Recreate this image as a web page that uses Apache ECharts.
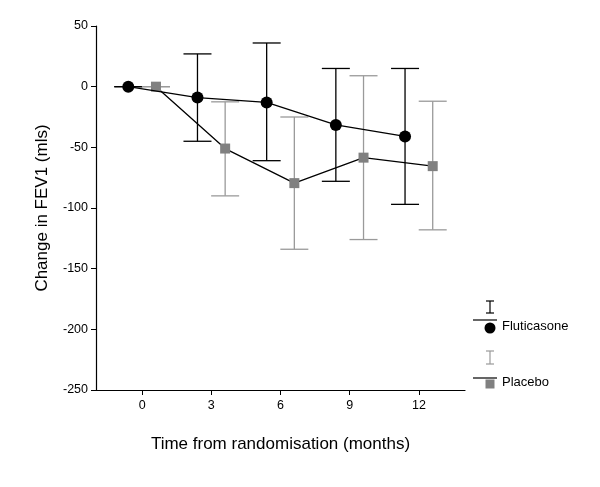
<!DOCTYPE html>
<html>
<head>
<meta charset="utf-8">
<script src="https://cdn.jsdelivr.net/npm/echarts@6/dist/echarts.min.js"></script>
<style>html,body{margin:0;padding:0;background:#fff;}#c{width:600px;height:487px;}</style>
</head>
<body>
<div id="c"></div>
<script>
const months = [0, 3, 6, 9, 12];
const xTicks = [0, 3, 6, 9, 12];
const flutMean = [0, -9, -13, -31.5, -41];
const flutLower = [0, -45, -61, -78, -97];
const flutUpper = [0, 27, 36, 15, 15];
const placMean = [0, -51, -79.5, -58.5, -65.5];
const placLower = [0, -90, -134, -126, -118];
const placUpper = [0, -12.5, -25, 9, -12];
const seriesNames = ['Fluticasone', 'Placebo'];

const DODGE = 0.6;
const FONT = 'Liberation Sans, Arial, Helvetica, sans-serif';
const BAR_GRAY = '#9a9a9a';
const SQ_GRAY = '#808080';

function errData(offset, lower, upper) {
  return months.map((m, i) => [m + offset, lower[i], upper[i]]);
}
function errSeries(name, data, color) {
  return {
    type: 'custom', name: name, z: 1,
    data: data,
    encode: { x: 0, y: [1, 2] },
    renderItem: function (params, api) {
      const x = api.value(0);
      const lo = api.coord([x, api.value(1)]);
      const hi = api.coord([x, api.value(2)]);
      const hw = 14;
      const st = { stroke: color, lineWidth: 1.3 };
      return {
        type: 'group',
        children: [
          { type: 'line', shape: { x1: lo[0], y1: lo[1], x2: hi[0], y2: hi[1] }, style: st },
          { type: 'line', shape: { x1: lo[0] - hw, y1: lo[1], x2: lo[0] + hw, y2: lo[1] }, style: st },
          { type: 'line', shape: { x1: hi[0] - hw, y1: hi[1], x2: hi[0] + hw, y2: hi[1] }, style: st }
        ]
      };
    }
  };
}

const chart = echarts.init(document.getElementById('c'));
chart.setOption({
  animation: false,
  backgroundColor: '#fff',
  textStyle: { fontFamily: FONT },
  grid: { left: 96, right: 135, top: 26, bottom: 97, containLabel: false },
  xAxis: {
    type: 'value', min: -2, max: 14,
    name: 'Time from randomisation (months)',
    nameLocation: 'middle', nameGap: 46,
    nameTextStyle: { fontSize: 17, color: '#000', fontFamily: FONT },
    axisLine: { show: true, onZero: false, lineStyle: { color: '#000', width: 1.2 } },
    axisTick: { show: true, length: 5, customValues: xTicks, lineStyle: { color: '#000' } },
    axisLabel: { customValues: xTicks, color: '#000', fontSize: 12.5, margin: 9, fontFamily: FONT },
    splitLine: { show: false }
  },
  yAxis: {
    type: 'value', min: -250, max: 50, interval: 50,
    name: 'Change in FEV1 (mls)',
    nameLocation: 'middle', nameGap: 45,
    nameTextStyle: { fontSize: 17, color: '#000', fontFamily: FONT },
    axisLine: { show: true, onZero: false, lineStyle: { color: '#000', width: 1.2 } },
    axisTick: { show: true, length: 5, lineStyle: { color: '#000' } },
    axisLabel: { color: '#000', fontSize: 12.5, margin: 8, fontFamily: FONT },
    splitLine: { show: false }
  },
  series: [
    errSeries(seriesNames[0] + ' CI', errData(-DODGE, flutLower, flutUpper), '#000'),
    errSeries(seriesNames[1] + ' CI', errData(DODGE, placLower, placUpper), BAR_GRAY),
    {
      type: 'line', name: seriesNames[1], z: 3,
      data: months.map((m, i) => [m + DODGE, placMean[i]]),
      symbol: 'rect', symbolSize: 10,
      itemStyle: { color: SQ_GRAY },
      lineStyle: { color: '#000', width: 1.3 }
    },
    {
      type: 'line', name: seriesNames[0], z: 4,
      data: months.map((m, i) => [m - DODGE, flutMean[i]]),
      symbol: 'circle', symbolSize: 12,
      itemStyle: { color: '#000' },
      lineStyle: { color: '#000', width: 1.3 }
    }
  ],
  graphic: [
    { type: 'line', shape: { x1: 490, y1: 301, x2: 490, y2: 313 }, style: { stroke: '#000', lineWidth: 1.2 } },
    { type: 'line', shape: { x1: 486, y1: 301, x2: 494, y2: 301 }, style: { stroke: '#000', lineWidth: 1.2 } },
    { type: 'line', shape: { x1: 486, y1: 313, x2: 494, y2: 313 }, style: { stroke: '#000', lineWidth: 1.2 } },
    { type: 'line', shape: { x1: 473, y1: 320, x2: 497, y2: 320 }, style: { stroke: '#000', lineWidth: 1.2 } },
    { type: 'circle', shape: { cx: 490, cy: 328, r: 5.5 }, style: { fill: '#000' } },
    { type: 'text', left: 502, top: 319.5, style: { text: seriesNames[0], fontSize: 13, fontFamily: FONT, fill: '#000' } },
    { type: 'line', shape: { x1: 490, y1: 351, x2: 490, y2: 364 }, style: { stroke: BAR_GRAY, lineWidth: 1.2 } },
    { type: 'line', shape: { x1: 486, y1: 351, x2: 494, y2: 351 }, style: { stroke: BAR_GRAY, lineWidth: 1.2 } },
    { type: 'line', shape: { x1: 486, y1: 364, x2: 494, y2: 364 }, style: { stroke: BAR_GRAY, lineWidth: 1.2 } },
    { type: 'line', shape: { x1: 473, y1: 378, x2: 497, y2: 378 }, style: { stroke: '#000', lineWidth: 1.2 } },
    { type: 'rect', shape: { x: 485.5, y: 379.5, width: 9, height: 9 }, style: { fill: SQ_GRAY } },
    { type: 'text', left: 502, top: 375.5, style: { text: seriesNames[1], fontSize: 13, fontFamily: FONT, fill: '#000' } }
  ]
});
</script>
</body>
</html>
